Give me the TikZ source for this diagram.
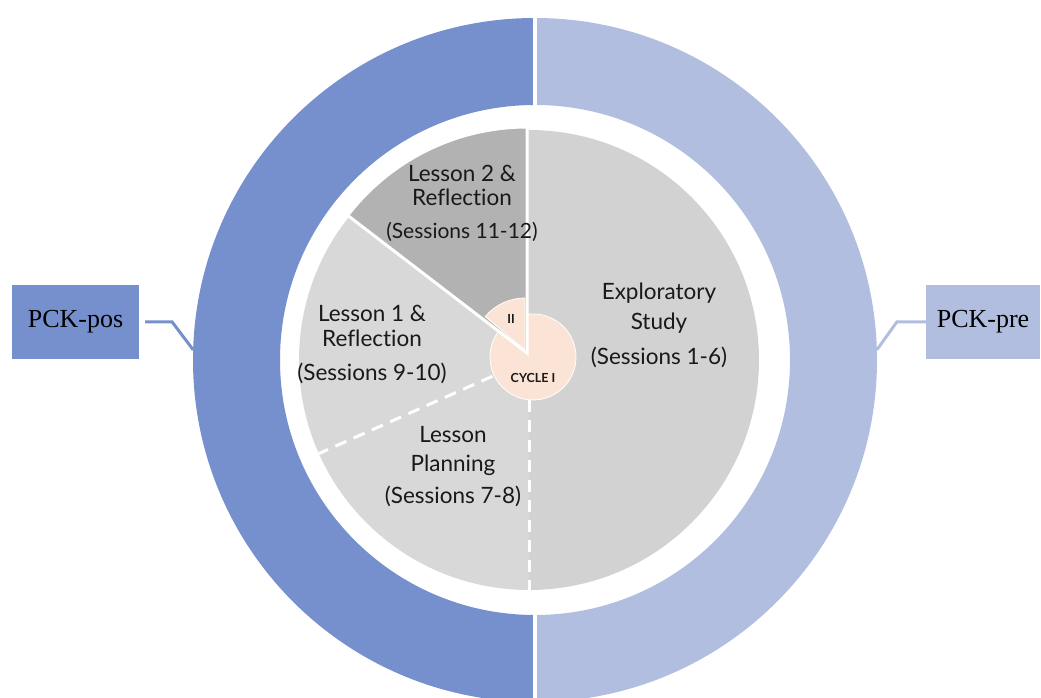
\documentclass[tikz,border=0pt]{standalone}
\usepackage{fontspec}
\setmainfont{Liberation Serif}
\newfontfamily\labelfont[Ligatures=NoCommon]{Lato}
\usetikzlibrary{calc}

\definecolor{posblue}{RGB}{118,144,206}
\definecolor{preblue}{RGB}{177,190,224}
\definecolor{explgray}{RGB}{210,210,210}
\definecolor{lessgray}{RGB}{216,216,216}
\definecolor{lessdark}{RGB}{178,178,178}
\definecolor{peach}{RGB}{251,228,213}

\begin{document}
\begin{tikzpicture}[x=1pt, y=1pt,
      lbl/.style={align=center, inner sep=0pt, text=black!90, font=\labelfont\fontsize{22.5}{24}\selectfont},
      cyc/.style={inner sep=0pt, text=black!90, font=\labelfont\bfseries\fontsize{12.5}{14}\selectfont},
      pck/.style={minimum height=74pt, inner sep=0pt, font=\fontsize{26}{30}\selectfont},
      sep/.style={white, line width=3pt, dash pattern=on 12pt off 8pt},
      link/.style={line width=3pt}]
      \useasboundingbox (0,0) rectangle (1041,698);
      \def\ringout{342} \def\ringin{255} \def\pierad{230}
      \coordinate (RC) at (535,338);
      \coordinate (C)  at (529,338);
      % outer ring
      \fill[posblue] ($(RC)+(90:\ringout)$) arc[start angle=90, end angle=270, radius=\ringout]
            -- ($(RC)+(270:\ringin)$) arc[start angle=270, end angle=90, radius=\ringin] -- cycle;
      \fill[preblue] ($(RC)+(-90:\ringout)$) arc[start angle=-90, end angle=90, radius=\ringout]
            -- ($(RC)+(90:\ringin)$) arc[start angle=90, end angle=-90, radius=\ringin] -- cycle;
      \draw[white, line width=4.5pt] ($(RC)+(0,350)$) -- ($(RC)+(0,-350)$);
      % pie
      \fill[explgray] (C) -- ++(-90:\pierad) arc[start angle=-90, end angle=90, radius=\pierad] -- cycle;
      \fill[lessgray] (C) -- ++(90:\pierad) arc[start angle=90, end angle=270, radius=\pierad] -- cycle;
      \draw[sep] (C) -- ++(204:\pierad);
      \draw[sep] (C) -- ++(270:\pierad);
      \filldraw[fill=peach, draw=white, line width=0.8pt] (533,341) circle[radius=43];
      \filldraw[fill=lessdark, draw=white, line width=3pt] (527,345) -- ++(90:226)
            arc[start angle=90, end angle=142.5, radius=226] -- cycle;
      \filldraw[fill=peach, draw=white, line width=0.8pt] (525,348) -- ++(90:52)
            arc[start angle=90, end angle=140, radius=52] -- cycle;
      % labels
      \node[lbl] (less2) at (462,495) {Lesson 2 \&\\Reflection\\[9pt]{\fontsize{21}{24}\selectfont(Sessions 11-12)}};
      \node[lbl] (less1) at (372,353) {Lesson 1 \&\\[1pt]Reflection\\[10pt](Sessions 9-10)};
      \node[lbl] (expl)  at (659,373) {Exploratory\\[6pt]Study\\[11pt](Sessions 1-6)};
      \node[lbl] (plan)  at (453,231) {Lesson\\[5pt]Planning\\[8pt](Sessions 7-8)};
      \node[cyc] (cyc1)  at (533,320) {CYCLE I};
      \node[cyc] (cyc2)  at (511,379) {II};
      % PCK boxes
      \node[pck, fill=posblue, minimum width=127pt] (pos) at (75.5,376) {PCK-pos};
      \node[pck, fill=preblue, minimum width=114pt] (pre) at (983,376) {PCK-pre};
      \coordinate (posend) at ($(RC)+(178.3:\ringout)$);
      \coordinate (preend) at ($(RC)+(1.7:\ringout)$);
      \draw[link, posblue, shorten <=6pt] (pos.east) -- ++(33,0) -- (posend);
      \draw[link, preblue] (pre.west) -- ++(-29,0) -- (preend);
\end{tikzpicture}
\end{document}
